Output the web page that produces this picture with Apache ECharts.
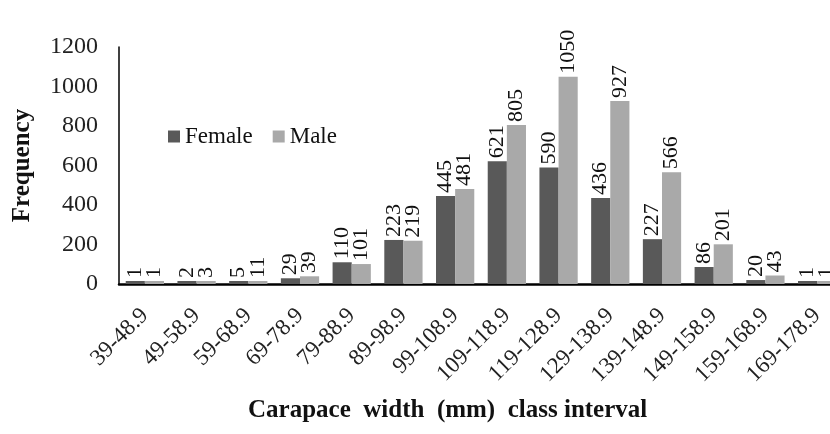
<!DOCTYPE html>
<html><head><meta charset="utf-8">
<script src="https://cdn.jsdelivr.net/npm/echarts@6/dist/echarts.min.js"></script>
<style>html,body{margin:0;padding:0;background:#fff}#c{width:830px;height:434px}</style>
</head><body><div id="c"></div>
<script>
var categories = ['39-48.9','49-58.9','59-68.9','69-78.9','79-88.9','89-98.9','99-108.9','109-118.9','119-128.9','129-138.9','139-148.9','149-158.9','159-168.9','169-178.9'];
var female = [1,2,5,29,110,223,445,621,590,436,227,86,20,1];
var male = [1,3,11,39,101,219,481,805,1050,927,566,201,43,1];
var yTicks = [0,200,400,600,800,1000,1200];
var F = '"Liberation Serif", serif';
var chart = echarts.init(document.getElementById('c'));
function lbl(){return {show:true,position:'top',rotate:90,align:'left',verticalAlign:'middle',distance:3,fontFamily:F,fontSize:22,color:'#111'};}
chart.setOption({
  animation:false,
  grid:{left:119,top:47,width:724,bottom:150,outerBoundsMode:'none',containLabel:false},
  legend:{left:163,top:120,itemWidth:12,itemHeight:12,itemGap:20,icon:'rect',textStyle:{fontFamily:F,fontSize:23,color:'#111'},data:['Female','Male']},
  xAxis:{type:'category',data:categories,axisTick:{show:false},axisLine:{lineStyle:{color:'#000',width:2.5}},
    axisLabel:{rotate:45,interval:0,fontFamily:F,fontSize:23,color:'#222',margin:28}},
  yAxis:{type:'value',min:0,max:yTicks[yTicks.length-1],interval:200,splitLine:{show:false},axisTick:{show:false},
    axisLine:{show:true,lineStyle:{color:'#000',width:1.5}},
    axisLabel:{fontFamily:F,fontSize:24,color:'#222',margin:21,formatter:function(v){return String(v);}},
    name:'Frequency',nameLocation:'middle',nameGap:84,nameTextStyle:{fontFamily:F,fontSize:25,fontWeight:'bold',color:'#111'}},
  series:[
    {name:'Female',type:'bar',data:female,itemStyle:{color:'#595959'},barGap:'0%',barCategoryGap:'26%',barMinHeight:3,label:lbl()},
    {name:'Male',type:'bar',data:male,itemStyle:{color:'#a9a9a9'},barMinHeight:3,label:lbl()}
  ],
  graphic:[{type:'text',left:248,top:398,style:{text:'Carapace  width  (mm)  class interval',font:'bold 25px "Liberation Serif", serif',fill:'#111'}}]
});
</script></body></html>
